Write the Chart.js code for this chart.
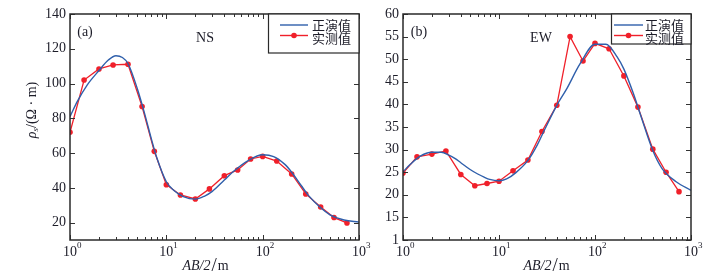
<!DOCTYPE html>
<html>
<head>
<meta charset="utf-8">
<script src="https://cdn.jsdelivr.net/npm/chart.js@4/dist/chart.umd.min.js"></script>
<style>
html, body { margin: 0; padding: 0; background: #fff; }
#wrap { position: relative; width: 719px; height: 279px; overflow: hidden; }
canvas { position: absolute; top: 0; }
</style>
</head>
<body>
<div id="wrap">
  <canvas id="chartNS" width="380" height="279" style="left:0"></canvas>
  <canvas id="chartEW" width="359" height="279" style="left:360px"></canvas>
</div>
<script>
// AB/2 (m) of the measured points
const abHalf = [1, 1.4, 2, 2.8, 4, 5.6, 7.5, 10, 14, 20, 28, 40, 55, 75, 100, 140, 200, 280, 400, 550, 750];
const nsMeasured = [72, 102, 108.4, 110.7, 111.1, 86.8, 61, 41.8, 35.9, 33.6, 39.4, 47, 50.3, 56.6, 58.1, 55.4, 48, 36.5, 29, 22.9, 19.8];
const ewMeasured = [24.8, 28.4, 29.0, 29.7, 24.5, 22.0, 22.5, 23.0, 25.3, 27.7, 34, 39.8, 55, 49.6, 53.5, 52.3, 46.3, 39.4, 30.1, 25, 20.7];

// forward model curve, read at these AB/2
const fwdX = [1, 1.2, 1.5, 2, 2.5, 3, 3.5, 4, 5, 6, 7, 8, 10, 12, 15, 20, 25, 30, 40, 50, 70, 100, 130, 170, 200, 250, 300, 400, 500, 700, 1000];
const nsForward = [81, 90, 99, 107.5, 113.5, 116, 115, 111.5, 97, 82, 68, 57, 43.5, 38.5, 35, 33.5, 35.3, 38, 44.5, 49.5, 55.5, 59, 58, 53.5, 49, 41.5, 35.5, 28.5, 24.5, 21.5, 20.3];
const ewForward = [25.1, 26.8, 28.5, 29.4, 29.4, 28.8, 28.0, 27.1, 25.6, 24.6, 23.9, 23.4, 23.1, 23.5, 24.9, 27.6, 31, 34.5, 39.8, 43.2, 49, 53.3, 53.3, 50.5, 47.8, 42.5, 37.5, 29.8, 25.8, 22.9, 21];

const xTickValues = [1, 10, 100, 1000];
const xTickExp = ['0', '1', '2', '3'];
const nsYTicks = [20, 40, 60, 80, 100, 120, 140];
const nsYLabels = ['20', '40', '60', '80', '100', '120', '140'];
const ewYTicks = [10, 15, 20, 25, 30, 35, 40, 45, 50, 55, 60];
const ewYLabels = ['1', '15', '20', '25', '30', '35', '40', '45', '50', '55', '60'];
const legendNames = ['正演值', '实测值'];

const BLUE = '#2f5fab';
const RED = '#f0202a';
const INK = '#1c1c28';
const SERIF = '"Liberation Serif", "DejaVu Serif", serif';
const CJK = '"Noto Sans CJK SC", sans-serif';

function pts(xs, ys) {
  return xs.map((x, i) => ({ x: x, y: ys[i] }));
}

// frame, inward ticks, x labels, titles, legend, panel labels
const decor = {
  id: 'decor',
  afterDraw(chart, args, o) {
    const ctx = chart.ctx;
    const a = chart.chartArea;
    const sx = chart.scales.x, sy = chart.scales.y;
    ctx.save();

    ctx.strokeStyle = '#333';
    ctx.lineWidth = 1;
    ctx.beginPath();
    for (let d = 1; d < 1000; d *= 10) {
      for (let k = 2; k <= 9; k++) {
        const px = Math.round(sx.getPixelForValue(d * k)) + 0.5;
        ctx.moveTo(px, a.bottom); ctx.lineTo(px, a.bottom - 3);
        ctx.moveTo(px, a.top); ctx.lineTo(px, a.top + 3);
      }
    }
    xTickValues.forEach(v => {
      const px = Math.round(sx.getPixelForValue(v)) + 0.5;
      ctx.moveTo(px, a.bottom); ctx.lineTo(px, a.bottom - 5);
      ctx.moveTo(px, a.top); ctx.lineTo(px, a.top + 5);
    });
    o.yTicks.forEach(v => {
      const py = Math.round(sy.getPixelForValue(v)) + 0.5;
      ctx.moveTo(a.left, py); ctx.lineTo(a.left + 5, py);
      ctx.moveTo(a.right, py); ctx.lineTo(a.right - 5, py);
    });
    ctx.stroke();

    ctx.strokeStyle = '#2a2a2a';
    ctx.lineWidth = 1.5;
    ctx.strokeRect(a.left, a.top, a.right - a.left, a.bottom - a.top);

    // x tick labels 10^n
    ctx.fillStyle = INK;
    ctx.textBaseline = 'middle';
    xTickValues.forEach((v, i) => {
      const px = sx.getPixelForValue(v);
      ctx.font = '14px ' + SERIF;
      ctx.textAlign = 'center';
      ctx.fillText('10', px, 252);
      const w = ctx.measureText('10').width;
      ctx.font = '9px ' + SERIF;
      ctx.textAlign = 'left';
      ctx.fillText(xTickExp[i], px + w / 2, 246);
    });

    // x title AB/2/m
    const parts = [['italic 14px ' + SERIF, 'AB/2', 0], ['19px ' + SERIF, '/', 0], ['14px ' + SERIF, 'm', 0]];
    let total = 0;
    parts.forEach(p => { ctx.font = p[0]; total += ctx.measureText(p[1]).width + 1; });
    let cx = o.xTitleX - total / 2;
    ctx.textAlign = 'left';
    parts.forEach(p => { ctx.font = p[0]; ctx.fillText(p[1], cx, 266); cx += ctx.measureText(p[1]).width + 1; });

    // y title
    if (o.yTitle) {
      ctx.save();
      ctx.translate(32, 110);
      ctx.rotate(-Math.PI / 2);
      const yp = [['italic 14px ' + SERIF, 'ρ', 0], ['italic 9px ' + SERIF, 's', 4], ['14px ' + SERIF, '/(Ω · m)', 0]];
      let tw = 0;
      yp.forEach(p => { ctx.font = p[0]; tw += ctx.measureText(p[1]).width; });
      let tx = -tw / 2;
      yp.forEach(p => { ctx.font = p[0]; ctx.fillText(p[1], tx, p[2]); tx += ctx.measureText(p[1]).width; });
      ctx.restore();
    }

    // panel labels
    ctx.font = '14px ' + SERIF;
    ctx.textAlign = 'center';
    ctx.fillText(o.tag, o.tagX, 32);
    ctx.fillText(o.site, o.siteX, 38);

    // legend box
    const L = o.legend;
    ctx.fillStyle = '#fff';
    ctx.fillRect(L.x0, a.top, a.right - L.x0, L.y1 - a.top);
    ctx.strokeStyle = '#2a2a2a';
    ctx.lineWidth = 1.2;
    ctx.strokeRect(L.x0 + 0.5, a.top, a.right - L.x0 - 0.5, L.y1 - a.top);
    ctx.lineWidth = 1.4;
    ctx.strokeStyle = BLUE;
    ctx.beginPath(); ctx.moveTo(L.lx0, 25); ctx.lineTo(L.lx1, 25); ctx.stroke();
    ctx.strokeStyle = RED;
    ctx.beginPath(); ctx.moveTo(L.lx0, 35.5); ctx.lineTo(L.lx1, 35.5); ctx.stroke();
    ctx.fillStyle = RED;
    ctx.beginPath(); ctx.arc((L.lx0 + L.lx1) / 2, 35.5, 2.8, 0, Math.PI * 2); ctx.fill();
    ctx.fillStyle = INK;
    ctx.font = '13px ' + CJK;
    ctx.textAlign = 'left';
    ctx.fillText(legendNames[0], L.tx, 25);
    ctx.fillText(legendNames[1], L.tx, 38);

    ctx.restore();
  }
};

function makeChart(id, forward, measured, yMin, yMax, yTicks, yLabels, yWidth, padRight, deco) {
  return new Chart(document.getElementById(id), {
    type: 'line',
    data: {
      datasets: [
        {
          label: legendNames[0],
          data: pts(fwdX, forward),
          borderColor: BLUE,
          borderWidth: 1.4,
          pointRadius: 0,
          cubicInterpolationMode: 'monotone',
          fill: false
        },
        {
          label: legendNames[1],
          data: pts(abHalf, measured),
          borderColor: RED,
          backgroundColor: RED,
          borderWidth: 1.3,
          pointRadius: 2.8,
          pointBorderWidth: 0,
          tension: 0,
          fill: false
        }
      ]
    },
    options: {
      responsive: false,
      animation: false,
      layout: { padding: { top: 14, right: padRight, left: 0, bottom: 0 } },
      plugins: { legend: { display: false }, tooltip: { enabled: false }, decor: deco },
      scales: {
        x: {
          type: 'logarithmic',
          min: 1,
          max: 1000,
          grid: { display: false, drawTicks: false },
          border: { display: false },
          ticks: { display: false },
          afterFit: s => { s.height = 39; }
        },
        y: {
          type: 'linear',
          min: yMin,
          max: yMax,
          grid: { display: false, drawTicks: false },
          border: { display: false },
          afterBuildTicks: s => { s.ticks = yTicks.map(v => ({ value: v })); },
          ticks: {
            padding: 4,
            color: INK,
            font: { family: SERIF, size: 14 },
            callback: v => yLabels[yTicks.indexOf(v)]
          },
          afterFit: s => { s.width = yWidth; }
        }
      }
    },
    plugins: [decor]
  });
}

makeChart('chartNS', nsForward, nsMeasured, 10, 140, nsYTicks, nsYLabels, 70, 21, {
  yTicks: nsYTicks, yTitle: true, xTitleX: 206, tag: '(a)', tagX: 85, site: 'NS', siteX: 205,
  legend: { x0: 268, y1: 53, lx0: 280, lx1: 308, tx: 312 }
});
makeChart('chartEW', ewForward, ewMeasured, 10, 60, ewYTicks, ewYLabels, 43, 28, {
  yTicks: ewYTicks, yTitle: false, xTitleX: 187, tag: '(b)', tagX: 59, site: 'EW', siteX: 181,
  legend: { x0: 251, y1: 44, lx0: 254, lx1: 283, tx: 285 }
});
</script>
</body>
</html>
